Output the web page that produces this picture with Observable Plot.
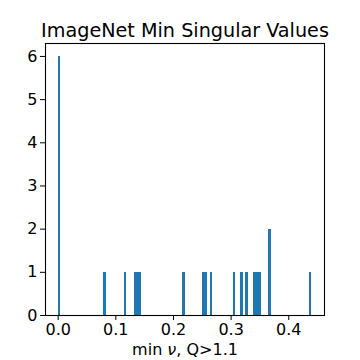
<!DOCTYPE html>
<html><head><meta charset="utf-8">
<script src="https://cdn.jsdelivr.net/npm/d3@7"></script>
<script src="https://cdn.jsdelivr.net/npm/@observablehq/plot@0.6"></script>
<style>
html,body{margin:0;padding:0;background:#fff;}
svg{font-family:"DejaVu Sans",sans-serif;}
</style>
</head><body>
<div id="chart"></div>
<script>
const title = "ImageNet Min Singular Values";
const xLabelParts = ["min ", "ν", ", Q>1.1"];
// estimated per-sample minimum singular values
const values = [0, 0, 0, 0, 0, 0,
  0.080, 0.116, 0.133, 0.137, 0.142, 0.218,
  0.252, 0.257, 0.266, 0.305, 0.319, 0.327,
  0.340, 0.344, 0.348, 0.366, 0.366, 0.440];
const nBins = 100;
const xTicks = [0, 0.1, 0.2, 0.3, 0.4];
const yTicks = [0, 1, 2, 3, 4, 5, 6];

const lo = d3.min(values), hi = d3.max(values);
const step = (hi - lo) / nBins;
const bins = d3.bin().domain([lo, hi])
  .thresholds(d3.range(1, nBins).map(i => lo + i * step))(values)
  .filter(b => b.length > 0)
  .map(b => ({x1: b.x0, x2: b.x1, y: b.length}));

const pad = (hi - lo) * 0.05;
const plot = Plot.plot({
  width: 360, height: 360,
  marginLeft: 45, marginRight: 36, marginTop: 43, marginBottom: 45,
  style: {fontFamily: "DejaVu Sans, sans-serif", fontSize: "16px", background: "#fff", color: "#000"},
  x: {domain: [lo - pad, hi + pad]},
  y: {domain: [0, 6.3]},
  marks: [
    Plot.rectY(bins, {x1: "x1", x2: "x2", y: "y", fill: "#1f77b4", inset: 0, shapeRendering: "crispEdges"}),
    Plot.axisX({ticks: xTicks, tickFormat: d3.format(".1f"), tickSize: 5, tickPadding: 3, label: null, fontSize: 16}),
    Plot.axisY({ticks: yTicks, tickFormat: d3.format("d"), tickSize: 5, tickPadding: 3, label: null, fontSize: 16}),
    Plot.frame({stroke: "#000", strokeWidth: 1.1}),
    Plot.text([title], {frameAnchor: "top", dy: -20, fontSize: 19.2, fill: "#000"}),
    Plot.text([xLabelParts.join("")], {frameAnchor: "bottom", dy: 39, fontSize: 16, fill: "#000", className: "xlab"})
  ]
});
document.getElementById("chart").appendChild(plot);
// italic nu in the x label
d3.select(plot).selectAll(".xlab text").each(function() {
  const t = d3.select(this);
  t.text(null);
  xLabelParts.forEach((p, i) => t.append("tspan").text(p).attr("font-style", i === 1 ? "italic" : null));
});
</script>
</body></html>
